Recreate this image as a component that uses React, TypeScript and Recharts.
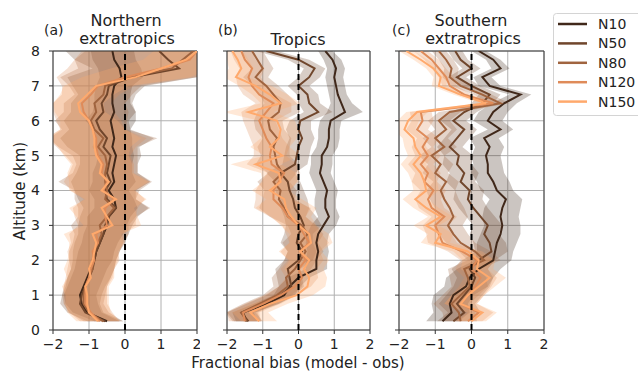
import { Area, CartesianGrid, ComposedChart, Legend, Line, ReferenceArea, ReferenceLine, XAxis, YAxis } from "recharts";

// altitude levels (km), bottom to top
const altitudes = [0.25, 0.5, 0.75, 1, 1.25, 1.5, 1.75, 2, 2.25, 2.5, 2.75, 3, 3.25, 3.5, 3.75, 4, 4.25, 4.5, 4.75, 5, 5.25, 5.5, 5.75, 6, 6.25, 6.5, 6.75, 7, 7.25, 7.5, 7.75, 8];
const runNames = ["N10", "N50", "N80", "N120", "N150"];
const runColors = ["#40281a", "#70462c", "#a0643f", "#df8b59", "#ffa96c"];
const biasTicks = [-2, -1, 0, 1, 2];
const altitudeTicks = [0, 1, 2, 3, 4, 5, 6, 7, 8];

// (a) Northern extratropics: fractional bias per level
const northN10 = [-0.5, -1.05, -1.2, -1.25, -1.15, -1.05, -0.95, -0.85, -0.8, -0.7, -0.6, -0.5, -0.45, -0.25, -0.3, -0.45, -0.3, -0.35, -0.3, -0.25, -0.35, -0.3, -0.35, -0.4, -0.3, -0.35, -0.35, -0.3, -0.1, -0.15, -0.3, -0.35];
const northN50 = [-0.55, -1.1, -1.25, -1.2, -1.1, -1.0, -0.9, -0.85, -0.8, -0.7, -0.6, -0.55, -0.45, -0.25, -0.5, -0.55, -0.4, -0.5, -0.45, -0.4, -0.6, -0.5, -0.7, -0.8, -0.6, -0.65, -0.5, -0.45, 0.2, 1.5, 1.2, 0.95];
const northN80 = [-0.6, -1.0, -1.15, -1.15, -1.1, -1.0, -0.9, -0.9, -0.85, -0.75, -0.65, -0.7, -0.5, -0.3, -0.55, -0.5, -0.55, -0.55, -0.5, -0.55, -0.75, -0.6, -0.85, -0.95, -0.8, -0.85, -0.6, -0.55, 0.1, 1.3, 1.6, 1.9];
const northN120 = [-0.7, -0.95, -1.1, -1.1, -1.1, -1.0, -0.95, -0.85, -0.9, -0.75, -0.8, -0.5, -0.55, -0.55, -0.3, -0.6, -0.5, -0.65, -0.6, -0.75, -0.8, -0.8, -0.9, -1.0, -1.15, -1.2, -0.95, -0.75, 0.0, 1.0, 1.8, 2.0];
const northN150 = [-0.75, -1.0, -1.05, -1.05, -1.1, -0.95, -1.0, -0.9, -0.85, -0.8, -0.9, -0.35, -0.5, -0.65, -0.25, -0.65, -0.45, -0.7, -0.65, -0.8, -0.85, -0.85, -0.9, -1.0, -1.25, -1.3, -1.05, -0.8, 0.3, 1.0, 1.7, 2.0];

// (a) spread of each run about its mean
const northSpreadN10 = [0.35, 0.4, 0.45, 0.45, 0.45, 0.45, 0.45, 0.5, 0.5, 0.5, 0.55, 0.55, 0.6, 0.6, 0.55, 0.55, 0.6, 0.55, 0.5, 0.5, 0.55, 0.5, 0.5, 0.7, 0.6, 0.5, 0.5, 0.5, 0.6, 0.6, 0.6, 0.6];
const northSpreadN50 = [0.5, 0.5, 0.55, 0.55, 0.55, 0.6, 0.6, 0.6, 0.65, 0.7, 0.7, 0.75, 0.8, 0.9, 0.8, 0.85, 1.1, 0.85, 0.8, 0.85, 1.0, 1.3, 0.85, 0.9, 0.9, 0.85, 0.8, 1.0, 1.8, 2.4, 2.6, 2.6];
const northSpreadN80 = [0.55, 0.55, 0.55, 0.6, 0.6, 0.6, 0.6, 0.65, 0.7, 0.7, 0.75, 0.8, 0.8, 1.0, 0.85, 0.9, 1.3, 0.9, 0.85, 0.9, 1.1, 1.5, 0.9, 1.0, 0.9, 0.85, 0.8, 1.0, 1.9, 2.6, 3.0, 3.0];
const northSpreadN120 = [0.55, 0.6, 0.6, 0.6, 0.6, 0.65, 0.65, 0.7, 0.7, 0.75, 0.75, 0.8, 0.85, 0.9, 0.85, 0.9, 1.2, 0.9, 0.85, 0.9, 1.1, 1.4, 0.9, 0.9, 0.85, 0.8, 0.8, 1.0, 1.9, 2.6, 3.2, 3.2];
const northSpreadN150 = [0.6, 0.6, 0.6, 0.6, 0.65, 0.65, 0.7, 0.7, 0.7, 0.75, 0.8, 0.8, 0.85, 0.9, 0.85, 0.9, 1.1, 0.9, 0.85, 0.9, 1.0, 1.3, 0.9, 0.8, 0.7, 0.7, 0.75, 0.9, 1.5, 1.4, 1.2, 1.2];

// (b) Tropics
const tropN10 = [-1.45, -1.55, -0.9, -0.4, -0.25, 0.0, 0.5, 0.5, 0.55, 0.5, 0.55, 0.7, 0.85, 0.75, 0.75, 0.8, 0.7, 0.6, 0.65, 0.65, 0.8, 0.85, 0.85, 0.9, 1.3, 1.2, 1.1, 1.05, 1.0, 1.05, 0.95, 0.75];
const tropN50 = [-1.4, -1.6, -1.0, -0.5, -0.2, -0.25, -0.3, 0.0, 0.1, -0.05, 0.0, 0.15, 0.05, -0.1, -0.15, -0.25, -0.3, -0.5, -0.1, -0.05, 0.0, 0.1, 0.0, 0.05, 0.55, 0.3, 0.25, 0.0, 0.3, 0.45, 0.0, -0.9];
const tropN80 = [-1.45, -1.6, -1.1, -0.6, -0.3, -0.35, -0.1, 0.05, 0.2, 0.05, 0.25, 0.1, -0.3, -0.4, -0.55, -0.5, -0.7, -0.45, -0.6, -0.65, -0.7, -0.6, -0.8, -0.85, -0.55, -0.5, -0.7, -0.9, -1.2, -1.0, -1.15, -1.3];
const tropN120 = [-1.5, -1.55, -1.0, -0.5, -0.1, 0.1, 0.0, 0.2, 0.05, 0.3, 0.15, 0.0, -0.3, -0.45, -0.7, -0.7, -0.55, -0.4, -0.75, -0.8, -0.75, -0.9, -1.0, -1.1, -0.9, -0.7, -1.1, -1.3, -1.4, -1.3, -1.5, -1.6];
const tropN150 = [-1.1, -1.35, -0.8, -0.05, 0.25, 0.3, 0.15, 0.3, 0.05, 0.35, 0.3, 0.0, -0.2, -0.35, -0.4, -0.8, -0.5, -0.55, -1.2, -0.45, -0.8, -0.55, -0.5, -0.6, -1.4, -0.5, -0.8, -1.2, -1.75, -1.6, -1.7, -1.85];

const tropSpreadN10 = [0.3, 0.3, 0.35, 0.3, 0.3, 0.3, 0.3, 0.3, 0.3, 0.3, 0.3, 0.35, 0.3, 0.3, 0.3, 0.3, 0.3, 0.3, 0.3, 0.3, 0.3, 0.3, 0.3, 0.3, 0.5, 0.3, 0.25, 0.25, 0.25, 0.25, 0.25, 0.2];
const tropSpreadN50 = [0.4, 0.4, 0.45, 0.4, 0.35, 0.35, 0.35, 0.4, 0.4, 0.45, 0.4, 0.5, 0.45, 0.4, 0.4, 0.4, 0.35, 0.4, 0.35, 0.35, 0.35, 0.35, 0.35, 0.3, 0.4, 0.3, 0.3, 0.3, 0.3, 0.3, 0.3, 0.3];
const tropSpreadN80 = [0.4, 0.45, 0.45, 0.4, 0.4, 0.4, 0.45, 0.45, 0.5, 0.5, 0.45, 0.4, 0.5, 0.7, 0.45, 0.45, 0.45, 0.4, 0.6, 0.4, 0.45, 0.4, 0.4, 0.4, 0.6, 0.45, 0.4, 0.35, 0.35, 0.3, 0.3, 0.3];
const tropSpreadN120 = [0.45, 0.45, 0.5, 0.45, 0.45, 0.45, 0.5, 0.5, 0.55, 0.55, 0.5, 0.45, 0.5, 0.8, 0.5, 0.5, 0.5, 0.45, 0.7, 0.45, 0.5, 0.45, 0.45, 0.45, 0.7, 0.5, 0.45, 0.4, 0.35, 0.35, 0.3, 0.3];
const tropSpreadN150 = [0.5, 0.5, 0.5, 0.45, 0.5, 0.5, 0.55, 0.55, 0.6, 0.6, 0.55, 0.5, 0.55, 0.85, 0.5, 0.5, 0.5, 0.5, 0.7, 0.5, 0.55, 0.5, 0.5, 0.5, 0.7, 0.55, 0.5, 0.45, 0.35, 0.35, 0.3, 0.3];

// (c) Southern extratropics
const southN10 = [-0.8, -0.55, -0.6, -0.5, -0.15, -0.05, 0.2, 0.6, 0.65, 0.7, 0.8, 0.85, 0.8, 0.85, 0.95, 0.7, 0.6, 0.45, 0.45, 0.4, 0.5, 0.35, 0.8, 0.45, 0.6, 0.9, 1.35, 0.5, 0.3, 0.8, 0.6, 0.2];
const southN50 = [-0.5, -0.2, -0.4, -0.2, 0.0, 0.1, -0.05, 0.2, 0.55, 0.5, 0.35, 0.45, 0.25, 0.05, -0.1, -0.05, -0.3, -0.2, -0.4, -0.35, -0.6, -0.4, -0.2, -0.5, -0.2, 0.3, 0.5, 0.0, -0.4, 0.0, -0.3, -0.45];
const southN80 = [-0.3, -0.35, -0.55, -0.3, -0.05, -0.1, -0.2, 0.35, 0.1, -0.3, -0.5, -0.65, -0.5, -0.6, -0.75, -0.85, -0.7, -1.0, -0.85, -1.1, -0.75, -1.0, -0.7, -0.9, -0.6, 0.8, 0.3, -0.3, -0.6, -0.55, -0.7, -0.9];
const southN120 = [-0.1, 0.2, -0.3, -0.1, 0.1, 0.25, 0.0, 0.15, -0.25, -0.8, -0.9, -1.0, -0.75, -1.1, -1.2, -1.05, -1.3, -1.2, -1.4, -1.2, -1.35, -1.2, -1.5, -1.35, -1.4, 0.6, -0.2, -0.6, -0.7, -0.9, -1.1, -1.4];
const southN150 = [0.0, 0.3, -0.3, -0.1, 0.2, 0.5, 0.15, 0.2, -0.1, -1.0, -0.85, -1.25, -0.85, -1.25, -1.55, -1.25, -1.3, -1.4, -1.6, -1.4, -1.55, -1.6, -1.85, -1.75, -1.5, 0.4, -0.3, -0.9, -0.85, -1.05, -1.4, -1.8];

const southSpreadN10 = [0.45, 0.5, 0.5, 0.55, 0.6, 0.65, 0.6, 0.5, 0.5, 0.55, 0.55, 0.5, 0.5, 0.5, 0.45, 0.45, 0.45, 0.45, 0.4, 0.4, 0.4, 0.4, 0.35, 0.4, 0.4, 0.35, 0.3, 0.3, 0.25, 0.25, 0.2, 0.2];
const southSpreadN50 = [0.45, 0.45, 0.5, 0.5, 0.5, 0.5, 0.5, 0.45, 0.45, 0.45, 0.4, 0.4, 0.4, 0.4, 0.4, 0.4, 0.4, 0.4, 0.4, 0.4, 0.35, 0.35, 0.35, 0.35, 0.35, 0.3, 0.3, 0.25, 0.25, 0.25, 0.2, 0.2];
const southSpreadN80 = [0.45, 0.45, 0.5, 0.5, 0.5, 0.5, 0.45, 0.45, 0.45, 0.4, 0.4, 0.4, 0.4, 0.4, 0.4, 0.4, 0.35, 0.35, 0.35, 0.35, 0.35, 0.35, 0.3, 0.3, 0.3, 0.25, 0.25, 0.25, 0.2, 0.2, 0.2, 0.2];
const southSpreadN120 = [0.4, 0.4, 0.45, 0.45, 0.45, 0.45, 0.45, 0.45, 0.4, 0.4, 0.35, 0.35, 0.35, 0.35, 0.35, 0.35, 0.35, 0.35, 0.35, 0.35, 0.3, 0.3, 0.3, 0.3, 0.3, 0.2, 0.2, 0.2, 0.2, 0.2, 0.2, 0.2];
const southSpreadN150 = [0.4, 0.4, 0.45, 0.45, 0.45, 0.45, 0.45, 0.45, 0.4, 0.4, 0.35, 0.35, 0.35, 0.35, 0.35, 0.35, 0.35, 0.35, 0.35, 0.35, 0.3, 0.3, 0.3, 0.3, 0.3, 0.2, 0.2, 0.2, 0.2, 0.2, 0.2, 0.2];

const FONT = "DejaVu Sans, Verdana, sans-serif";

type Row = Record<string, number | number[]>;

function buildRows(profiles: number[][], spreads: number[][]): Row[] {
  return altitudes.map((alt, i) => {
    const row: Row = { alt };
    runNames.forEach((name, k) => {
      const v = profiles[k][i];
      const s = spreads[k][i];
      row[name] = v;
      row[name + "_band"] = [v - s, v + s];
    });
    return row;
  });
}

const northRows = buildRows(
  [northN10, northN50, northN80, northN120, northN150],
  [northSpreadN10, northSpreadN50, northSpreadN80, northSpreadN120, northSpreadN150]
);
const tropRows = buildRows(
  [tropN10, tropN50, tropN80, tropN120, tropN150],
  [tropSpreadN10, tropSpreadN50, tropSpreadN80, tropSpreadN120, tropSpreadN150]
);
const southRows = buildRows(
  [southN10, southN50, southN80, southN120, southN150],
  [southSpreadN10, southSpreadN50, southSpreadN80, southSpreadN120, southSpreadN150]
);

const minusFmt = (v: number) => (v < 0 ? "\u2212" + Math.abs(v) : String(v));

function LegendBox(props: any) {
  // keep run order N10 → N150 regardless of how the payload arrives
  const items = (props.payload || [])
    .filter((p: any) => runNames.includes(p.value))
    .sort((a: any, b: any) => runNames.indexOf(a.value) - runNames.indexOf(b.value));
  return (
    <svg width={90} height={104} style={{ display: "block", fontFamily: FONT }}>
      <rect x={0.5} y={0.5} width={100} height={102} rx={3} fill="#fff" stroke="#d4d4d4" />
      {items.map((it: any, i: number) => (
        <g key={it.value}>
          <line x1={5} x2={34} y1={11 + i * 19.4} y2={11 + i * 19.4} stroke={it.color} strokeWidth={2.5} />
          <text x={45} y={16 + i * 19.4} fontSize={14} fill="#222">
            {it.value}
          </text>
        </g>
      ))}
    </svg>
  );
}

type PanelProps = {
  rows: Row[];
  left: number;
  width: number;
  marginLeft: number;
  marginRight: number;
  yAxisWidth: number;
  showAltitude: boolean;
  withLegend?: boolean;
};

function Panel({ rows, left, width, marginLeft, marginRight, yAxisWidth, showAltitude, withLegend }: PanelProps) {
  return (
    <div style={{ position: "absolute", left, top: 0 }}>
      <ComposedChart
        width={width}
        height={372}
        data={rows}
        layout="vertical"
        margin={{ top: 51, bottom: 17, left: marginLeft, right: marginRight }}
      >
        <CartesianGrid stroke="#b0b0b0" strokeWidth={1} />
        <XAxis
          type="number"
          domain={[-2, 2]}
          ticks={biasTicks}
          interval={0}
          allowDataOverflow
          height={25}
          axisLine={false}
          tickLine={{ stroke: "#333" }}
          tickSize={4}
          tickMargin={5}
          tickFormatter={minusFmt}
          tick={{ fill: "#222", fontSize: 14, fontFamily: FONT }}
        />
        <YAxis
          type="number"
          dataKey="alt"
          domain={[0, 8]}
          ticks={altitudeTicks}
          interval={0}
          reversed
          allowDataOverflow
          width={yAxisWidth}
          axisLine={false}
          tickLine={{ stroke: "#333" }}
          tickSize={4}
          tickMargin={9}
          tickFormatter={(v: number) => (showAltitude ? String(v) : "")}
          tick={{ fill: "#222", fontSize: 14, fontFamily: FONT }}
        />
        {runNames.map((name, k) => (
          <Area
            key={name + "_band"}
            dataKey={name + "_band"}
            type="linear"
            stroke="none"
            fill={runColors[k]}
            fillOpacity={0.27}
            dot={false}
            activeDot={false}
            legendType="none"
            isAnimationActive={false}
          />
        ))}
        {runNames.map((name, k) => (
          <Line
            key={name}
            dataKey={name}
            name={name}
            type="linear"
            stroke={runColors[k]}
            strokeWidth={2}
            dot={false}
            activeDot={false}
            isAnimationActive={false}
          />
        ))}
        <ReferenceArea x1={-2} x2={2} y1={0} y2={8} fill="none" stroke="#3a3a3a" strokeWidth={1} />
        <ReferenceLine x={0} stroke="#000" strokeWidth={2} strokeDasharray="6 4" />
        {withLegend && (
          <Legend
            layout="vertical"
            align="center"
            verticalAlign="middle"
            content={<LegendBox />}
            wrapperStyle={{ position: "absolute", left: 178, top: 13, width: 90, height: 104 }}
          />
        )}
      </ComposedChart>
    </div>
  );
}

export default function App() {
  return (
    <div style={{ position: "absolute", left: 0, top: 0, width: 638, height: 372, background: "#fff", overflow: "hidden" }}>
      <Panel rows={northRows} left={0} width={200} marginLeft={13} marginRight={3} yAxisWidth={40} showAltitude />
      <Panel rows={tropRows} left={200} width={175} marginLeft={17} marginRight={5} yAxisWidth={10} showAltitude={false} />
      <Panel rows={southRows} left={375} width={175} marginLeft={14} marginRight={6} yAxisWidth={10} showAltitude={false} withLegend />
      <svg
        width={638}
        height={372}
        style={{ position: "absolute", left: 0, top: 0, pointerEvents: "none", fontFamily: FONT }}
      >
        <g fill="#222">
          <text x={44} y={35} fontSize={14}>(a)</text>
          <text x={126} y={26} fontSize={16} textAnchor="middle">Northern</text>
          <text x={127} y={44} fontSize={16} textAnchor="middle">extratropics</text>
          <text x={218} y={35} fontSize={14}>(b)</text>
          <text x={298} y={45} fontSize={16} textAnchor="middle">Tropics</text>
          <text x={392} y={35} fontSize={14}>(c)</text>
          <text x={471} y={26} fontSize={16} textAnchor="middle">Southern</text>
          <text x={473} y={44} fontSize={16} textAnchor="middle">extratropics</text>
          <text x={298} y={368} fontSize={15} textAnchor="middle">Fractional bias (model - obs)</text>
          <text x={25} y={191} fontSize={15} textAnchor="middle" transform="rotate(-90 25 191)">Altitude (km)</text>
        </g>
      </svg>
    </div>
  );
}
